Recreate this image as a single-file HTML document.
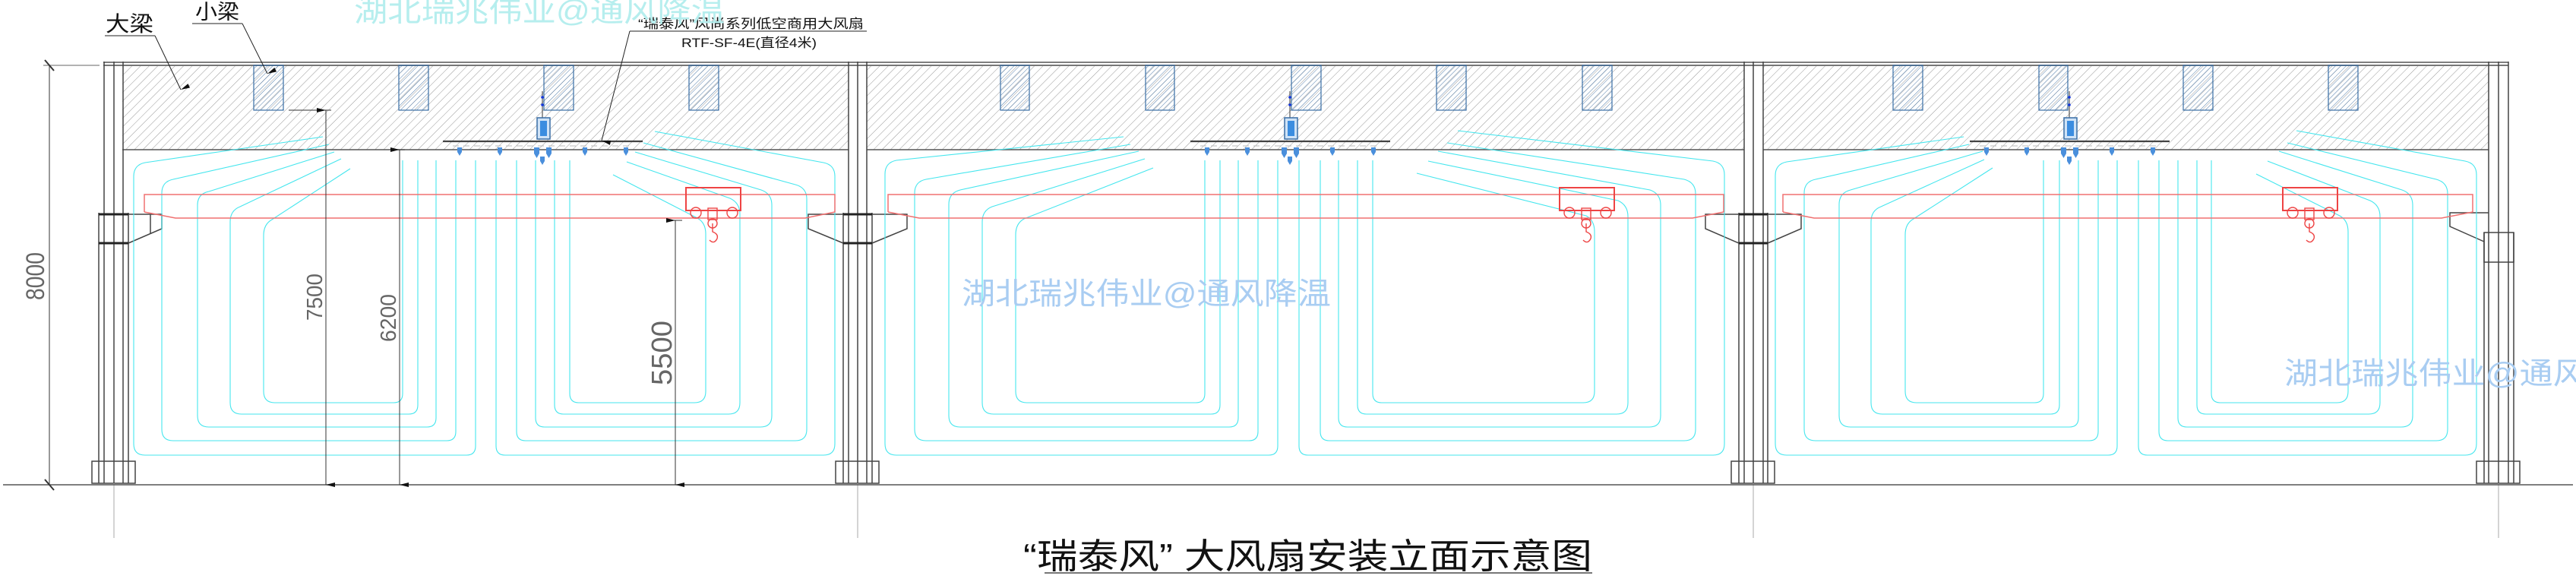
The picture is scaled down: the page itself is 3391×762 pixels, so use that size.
<!DOCTYPE html>
<html><head><meta charset="utf-8"><style>
html,body{margin:0;padding:0;background:#fff;}
svg{display:block;}
</style></head><body>
<svg width="3391" height="762" viewBox="0 0 3391 762" xmlns="http://www.w3.org/2000/svg">
<defs>
<pattern id="h1" patternUnits="userSpaceOnUse" width="8" height="8" patternTransform="rotate(45)">
<line x1="0" y1="0" x2="0" y2="8" stroke="#999" stroke-width="1"/></pattern>
<pattern id="h2" patternUnits="userSpaceOnUse" width="5" height="5" patternTransform="rotate(45)">
<line x1="0" y1="0" x2="0" y2="5" stroke="#3f6fa3" stroke-width="0.9"/></pattern>
<marker id="ar" markerWidth="6" markerHeight="12" refX="3" refY="12" orient="auto-start-reverse" markerUnits="userSpaceOnUse"><path d="M0,0 L3,12 L6,0 Z" fill="#111"/></marker>
</defs>

<rect x="161" y="86" width="956" height="111" fill="url(#h1)"/>
<rect x="1141" y="86" width="1155" height="111" fill="url(#h1)"/>
<rect x="2321" y="86" width="955" height="111" fill="url(#h1)"/>
<g stroke="#555" stroke-width="1.5" fill="none">
<line x1="136" y1="82" x2="3302" y2="82"/>
<line x1="136" y1="86" x2="3302" y2="86" stroke="#777" stroke-width="2"/>
<line x1="161" y1="197" x2="1117" y2="197"/>
<line x1="1141" y1="197" x2="2296" y2="197"/>
<line x1="2321" y1="197" x2="3276" y2="197"/>
</g>
<g stroke="#3a6ea5" stroke-width="1.2" fill="url(#h2)">
<rect x="334" y="86" width="39" height="59"/><rect x="525" y="86" width="39" height="59"/><rect x="716" y="86" width="39" height="59"/><rect x="907" y="86" width="39" height="59"/>
<rect x="1317" y="86" width="38" height="59"/><rect x="1508" y="86" width="38" height="59"/><rect x="1700" y="86" width="39" height="59"/><rect x="1891" y="86" width="39" height="59"/><rect x="2083" y="86" width="39" height="59"/>
<rect x="2492" y="86" width="39" height="59"/><rect x="2684" y="86" width="38" height="59"/><rect x="2874" y="86" width="39" height="59"/><rect x="3065" y="86" width="39" height="59"/>
</g>

<g stroke="#444" stroke-width="1.5" fill="none">
<path d="M137,81V636 M162,81V636 M150,81V636 M130,280V636 M169,280V636"/>
<path d="M130,282H213V301L169,320 M198,282V307" />
<path d="M130,282H169 M130,320H169" stroke="#222" stroke-width="3"/>
<rect x="121" y="607" width="57" height="29"/>
<path d="M1117,81V636 M1141,81V636 M1129,81V636 M1110,280V636 M1148,280V636"/>
<path d="M1148,282H1194V301L1148,320 M1110,282H1064V301L1110,320"/>
<path d="M1110,282H1148 M1110,320H1148" stroke="#222" stroke-width="3"/>
<rect x="1100" y="607" width="57" height="29"/>
<path d="M2296,81V636 M2321,81V636 M2308,81V636 M2289,280V636 M2327,280V636"/>
<path d="M2327,282H2371V301L2327,320 M2289,282H2245V301L2289,320"/>
<path d="M2289,282H2327 M2289,320H2327" stroke="#222" stroke-width="3"/>
<rect x="2279" y="607" width="57" height="29"/>
<path d="M3276,81V636 M3302,81V636 M3289,81V636 M3270,306V636 M3309,306V636"/>
<rect x="3270" y="306" width="39" height="39"/>
<path d="M3276,280H3225V298L3270,318"/>
<rect x="3260" y="607" width="57" height="29"/>
</g>
<g stroke="#aaa" stroke-width="1">
<line x1="150" y1="636" x2="150" y2="708"/><line x1="1129" y1="636" x2="1129" y2="708"/><line x1="2308" y1="636" x2="2308" y2="708"/><line x1="3289" y1="636" x2="3289" y2="708"/>
</g>
<line x1="4" y1="638" x2="3387" y2="638" stroke="#555" stroke-width="1.5"/>

<g stroke="#45e6ee" stroke-width="1.1" fill="none">
<path d="M626,211V587Q626,599 614,599H191Q176,599 176,584V232Q176,217 191,214L425,180"/>
<path d="M600,211V568Q600,580 588,580H228Q213,580 213,565V254Q213,239 228,236L433,190"/>
<path d="M574,211V550Q574,562 562,562H275Q260,562 260,547V270Q260,255 275,252L440,200"/>
<path d="M550,211V533Q550,545 538,545H318Q303,545 303,530V292Q303,277 316,272L449,209"/>
<path d="M530,211V518Q530,530 518,530H362Q347,530 347,515V310Q347,295 358,289L461,222"/>
<path d="M653,211V587Q653,599 665,599H1084Q1099,599 1099,584V232Q1099,217 1084,214L862,173"/>
<path d="M680,211V568Q680,580 692,580H1047Q1062,580 1062,565V262Q1062,247 1047,243L847,188"/>
<path d="M705,211V550Q705,562 717,562H1001Q1016,562 1016,547V270Q1016,255 1002,250L836,200"/>
<path d="M730,211V533Q730,545 742,545H959Q974,545 974,530V282Q974,267 961,261L825,213"/>
<path d="M750,211V518Q750,530 762,530H914Q929,530 929,515V308Q929,293 918,287L807,230"/>
<path d="M1682,211V587Q1682,599 1670,599H1180Q1165,599 1165,584V229Q1165,214 1180,211L1479,180"/>
<path d="M1656,211V568Q1656,580 1644,580H1219Q1204,580 1204,565V254Q1204,239 1219,236L1488,190"/>
<path d="M1630,211V550Q1630,562 1618,562H1264Q1249,562 1249,547V269Q1249,254 1264,250L1499,199"/>
<path d="M1606,211V533Q1606,545 1594,545H1308Q1293,545 1293,530V292Q1293,277 1306,272L1507,209"/>
<path d="M1586,211V518Q1586,530 1574,530H1352Q1337,530 1337,515V309Q1337,294 1348,288L1518,221"/>
<path d="M1710,211V587Q1710,599 1722,599H2255Q2270,599 2270,584V230Q2270,215 2255,212L1919,172"/>
<path d="M1738,211V568Q1738,580 1750,580H2217Q2232,580 2232,565V255Q2232,240 2217,236L1905,188"/>
<path d="M1762,211V550Q1762,562 1774,562H2171Q2186,562 2186,547V270Q2186,255 2172,250L1893,199"/>
<path d="M1787,211V533Q1787,545 1799,545H2128Q2143,545 2143,530V285Q2143,270 2130,264L1880,212"/>
<path d="M1807,211V518Q1807,530 1819,530H2084Q2099,530 2099,515V305Q2099,290 2088,284L1865,228"/>
<path d="M2787,211V587Q2787,599 2775,599H2352Q2337,599 2337,584V231Q2337,216 2352,213L2585,180"/>
<path d="M2762,211V568Q2762,580 2750,580H2390Q2375,580 2375,565V254Q2375,239 2390,236L2592,190"/>
<path d="M2736,211V550Q2736,562 2724,562H2436Q2421,562 2421,547V269Q2421,254 2436,250L2610,199"/>
<path d="M2711,211V533Q2711,545 2699,545H2478Q2463,545 2463,530V292Q2463,277 2476,272L2612,210"/>
<path d="M2690,211V518Q2690,530 2678,530H2523Q2508,530 2508,515V309Q2508,294 2519,288L2623,221"/>
<path d="M2815,211V587Q2815,599 2827,599H3245Q3260,599 3260,584V230Q3260,215 3245,212L3023,172"/>
<path d="M2842,211V568Q2842,580 2854,580H3207Q3222,580 3222,565V255Q3222,240 3207,236L3011,188"/>
<path d="M2867,211V550Q2867,562 2879,562H3161Q3176,562 3176,547V270Q3176,255 3162,250L3000,199"/>
<path d="M2892,211V533Q2892,545 2904,545H3118Q3133,545 3133,530V285Q3133,270 3120,264L2985,212"/>
<path d="M2911,211V518Q2911,530 2923,530H3076Q3091,530 3091,515V305Q3091,290 3080,284L2970,229"/>
</g>

<g stroke="#f07070" stroke-width="1.5" fill="none">
<path d="M190,279V256H1099V279L1060,287H231L190,279"/>
<path d="M1169,279V256H2269V279L2228,287H1210L1169,279"/>
<path d="M2347,279V256H3255V279L3214,287H2388L2347,279"/>
</g>
<g stroke="#ee4444" stroke-width="1.4" fill="none">
<g id="tr">
<rect x="903" y="247" width="72" height="30" stroke-width="2"/>
<circle cx="916" cy="280" r="7"/><circle cx="964" cy="280" r="7"/>
<rect x="932" y="274" width="12" height="15"/>
<circle cx="938" cy="294" r="6"/>
<path d="M938,294V305Q946,308 944,314Q940,322 934,316"/>
</g>
<use href="#tr" transform="translate(1150,0)"/>
<use href="#tr" transform="translate(2102,0)"/>
</g>

<g id="fan">
<line x1="714" y1="120" x2="714" y2="155" stroke="#555" stroke-width="1.2"/>
<circle cx="714" cy="128" r="1.8" fill="#1133dd"/><circle cx="714" cy="138" r="1.8" fill="#1133dd"/>
<rect x="707" y="155" width="17" height="28" fill="#cfe3f7" stroke="#3a6ea5" stroke-width="1.5"/>
<rect x="711" y="159" width="9" height="20" fill="#3b8de0"/>
<line x1="583" y1="186" x2="846" y2="186" stroke="#444" stroke-width="2.2"/>
<line x1="596" y1="192" x2="834" y2="192" stroke="#bbb" stroke-width="1" stroke-dasharray="8,6"/>
<g fill="#4a8fdc">
<path d="M602,194h6v6l-3,5l-3,-5z"/><path d="M655,194h6v6l-3,5l-3,-5z"/>
<path d="M703,194h7v8l-3.5,6l-3.5,-6z"/><path d="M719,194h7v8l-3.5,6l-3.5,-6z"/>
<path d="M711,206h6v6l-3,5l-3,-5z"/>
<path d="M767,194h6v6l-3,5l-3,-5z"/><path d="M821,194h6v6l-3,5l-3,-5z"/>
</g>
</g>
<use href="#fan" transform="translate(984,0)"/>
<use href="#fan" transform="translate(2010,0)"/>

<g stroke="#333" stroke-width="1" fill="none">
<line x1="57" y1="86" x2="131" y2="86" stroke="#999" stroke-width="1.5"/>
<line x1="65" y1="86" x2="65" y2="638"/>
<line x1="59" y1="79" x2="71" y2="93" stroke-width="2"/>
<line x1="59" y1="631" x2="71" y2="645" stroke-width="2"/>
<line x1="380" y1="145" x2="436" y2="145"/>
<line x1="429" y1="145" x2="429" y2="638" marker-end="url(#ar)" marker-start="url(#ar)"/>
<line x1="520" y1="197" x2="533" y2="197"/>
<line x1="526" y1="197" x2="526" y2="638" marker-end="url(#ar)" marker-start="url(#ar)"/>
<line x1="880" y1="290" x2="898" y2="290"/>
<line x1="889" y1="290" x2="889" y2="638" marker-end="url(#ar)" marker-start="url(#ar)"/>
</g>
<g font-family="Liberation Sans, sans-serif" fill="#666" font-weight="normal">
<text transform="translate(58,395) rotate(-90)" font-size="34" textLength="63" lengthAdjust="spacingAndGlyphs">8000</text>
<text transform="translate(424,422) rotate(-90)" font-size="29" textLength="62" lengthAdjust="spacingAndGlyphs">7500</text>
<text transform="translate(521,450) rotate(-90)" font-size="29" textLength="63" lengthAdjust="spacingAndGlyphs">6200</text>
<text transform="translate(884,507) rotate(-90)" font-size="38" textLength="85" lengthAdjust="spacingAndGlyphs">5500</text>
</g>

<g font-family="Liberation Sans, Noto Sans CJK SC, sans-serif" fill="#111">
<text x="139" y="41" font-size="28" textLength="63" lengthAdjust="spacingAndGlyphs">大梁</text>
<text x="257" y="25" font-size="27" textLength="58" lengthAdjust="spacingAndGlyphs">小梁</text>
<text x="840" y="37" font-size="17" textLength="297" lengthAdjust="spacingAndGlyphs">“瑞泰风”风尚系列低空商用大风扇</text>
<text x="897" y="62" font-size="17" textLength="178" lengthAdjust="spacingAndGlyphs">RTF-SF-4E(直径4米)</text>
</g>
<g stroke="#222" stroke-width="1" fill="none">
<line x1="138" y1="47" x2="204" y2="47"/><line x1="204" y1="47" x2="238" y2="118" marker-end="url(#ar)"/>
<line x1="253" y1="31" x2="319" y2="31"/><line x1="319" y1="31" x2="352" y2="97" marker-end="url(#ar)"/>
<line x1="829" y1="41" x2="1141" y2="41"/><line x1="829" y1="41" x2="792" y2="185" marker-end="url(#ar)"/>
</g>

<g font-family="Liberation Sans, Noto Sans CJK SC, sans-serif">
<text x="466" y="28" font-size="40" fill="#b6eeee" textLength="488" lengthAdjust="spacingAndGlyphs">湖北瑞兆伟业@通风降温</text>
<text x="1266" y="400" font-size="40" fill="#a9cdf2" textLength="486" lengthAdjust="spacingAndGlyphs">湖北瑞兆伟业@通风降温</text>
<text x="3007" y="505" font-size="40" fill="#a9cdf2" textLength="486" lengthAdjust="spacingAndGlyphs">湖北瑞兆伟业@通风降温</text>
</g>

<text x="1347" y="748" font-family="Liberation Sans, Noto Sans CJK SC, sans-serif" font-size="46" fill="#111" textLength="749" lengthAdjust="spacingAndGlyphs">“瑞泰风” 大风扇安装立面示意图</text>
<line x1="1375" y1="754" x2="2096" y2="754" stroke="#777" stroke-width="2"/>
</svg>
</body></html>
